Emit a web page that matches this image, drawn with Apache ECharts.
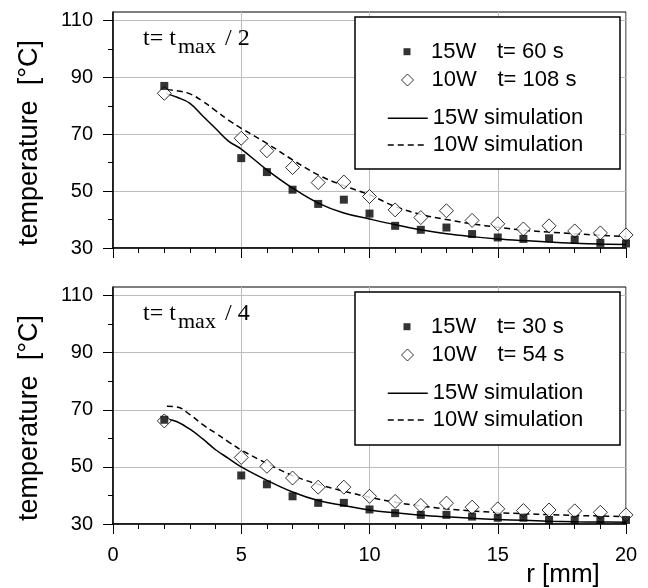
<!DOCTYPE html>
<html>
<head>
<meta charset="utf-8">
<script src="https://cdn.jsdelivr.net/npm/echarts@6/dist/echarts.min.js"></script>
<style>html,body{margin:0;padding:0;background:#fff}#c{width:648px;height:588px}</style>
</head>
<body>
<div id="c"></div>
<script>
// ---- data ----
const rPoints = [2, 5, 6, 7, 8, 9, 10, 11, 12, 13, 14, 15, 16, 17, 18, 19, 20];
const top15W = [87.0, 61.6, 56.7, 50.5, 45.5, 47.0, 42.1, 37.8, 36.4, 37.2, 34.9, 33.7, 33.2, 33.4, 32.9, 31.8, 31.6];
const top10W = [84.4, 68.6, 64.2, 58.3, 53.0, 53.2, 48.1, 43.4, 40.7, 43.1, 39.7, 38.5, 36.7, 37.8, 36.0, 35.3, 34.6];
const bot15W = [66.5, 47.0, 43.9, 39.7, 37.4, 37.4, 35.1, 33.8, 33.2, 33.2, 32.6, 32.2, 32.2, 31.4, 31.4, 31.4, 31.4];
const bot10W = [66.1, 53.3, 50.2, 46.1, 42.9, 42.9, 39.7, 37.9, 36.5, 37.3, 35.9, 35.3, 34.7, 34.9, 34.6, 34.1, 33.2];

const rSim = [2.1, 2.5, 3, 3.5, 4, 4.5, 5, 6, 7, 8, 9, 10, 11, 12, 13, 14, 15, 16, 17, 18, 19, 20];
const topSim15W = [84.3, 83.0, 80.9, 76.4, 72.0, 67.6, 64.8, 57.5, 51.1, 45.8, 42.3, 40.2, 38.2, 36.4, 35.0, 34.0, 33.2, 32.6, 32.1, 31.7, 31.4, 31.2];
const topSim10W = [85.7, 85.3, 84.2, 81.6, 78.3, 75.0, 72.1, 66.8, 61.0, 55.7, 51.9, 48.7, 44.6, 41.8, 40.0, 38.5, 37.3, 36.3, 35.6, 35.0, 34.5, 34.0];
const botSim15W = [66.8, 65.8, 63.2, 59.8, 56.0, 53.0, 50.0, 45.3, 41.2, 38.2, 36.5, 34.9, 33.9, 33.1, 32.5, 32.0, 31.6, 31.3, 31.0, 30.8, 30.7, 30.6];
const botSim10W = [71.2, 71.0, 68.3, 64.8, 61.8, 58.8, 55.9, 51.2, 47.0, 43.9, 41.5, 39.4, 37.6, 36.3, 35.3, 34.6, 34.0, 33.6, 33.3, 33.0, 32.8, 32.6];

const yTicks = [30, 50, 70, 90, 110];
const xTicks = [0, 5, 10, 15, 20];
const powerLabels = ['15W', '10W'];
const timesTop = ['t= 60 s', 't= 108 s'];
const timesBot = ['t= 30 s', 't= 54 s'];
const simLabels = ['15W simulation', '10W simulation'];
const insetTop = ['t= t', 'max', '/ 2'];
const insetBot = ['t= t', 'max', '/ 4'];
const yTitle = 'temperature  [°C]';
const xTitle = 'r [mm]';

// ---- helpers ----
const SANS = 'Liberation Sans, Arial, Helvetica, sans-serif';
const SERIF = 'Liberation Serif, Times New Roman, serif';
const LEG_FS = 22;
const pairs = (xs, ys) => xs.map((x, i) => [x, ys[i]]);

const grids = [
  { left: 113, top: 12, right: 22, height: 236, show: true, borderColor: '#000', borderWidth: 1 },
  { left: 113, top: 287, right: 22, height: 237, show: true, borderColor: '#000', borderWidth: 1 }
];

function xAxisCfg(gi, showLabels) {
  return {
    type: 'value', gridIndex: gi, min: 0, max: 20, interval: 5,
    axisLine: { show: true, onZero: false, lineStyle: { color: '#000', width: 1.5 } },
    axisTick: { show: true, length: 10, lineStyle: { color: '#000', width: 1 } },
    minorTick: { show: true, splitNumber: 5, length: 5, lineStyle: { color: '#000', width: 1 } },
    splitLine: { show: true, lineStyle: { color: '#bdbdbd', width: 1 } },
    axisLabel: { show: showLabels, fontSize: 20, color: '#000', fontFamily: SANS, margin: 21,
                 customValues: xTicks }
  };
}
function yAxisCfg(gi) {
  return {
    type: 'value', gridIndex: gi, min: 30, max: 113, interval: 20,
    axisLine: { show: true, onZero: false, lineStyle: { color: '#000', width: 1.5 } },
    axisTick: { show: true, length: 10, lineStyle: { color: '#000', width: 1 }, customValues: yTicks },
    minorTick: { show: true, splitNumber: 2, length: 5, lineStyle: { color: '#000', width: 1 } },
    splitLine: { show: true, lineStyle: { color: '#bdbdbd', width: 1 } },
    axisLabel: { fontSize: 20, color: '#000', fontFamily: SANS, margin: 20, customValues: yTicks }
  };
}

function lineSeries(name, gi, ys, dashed) {
  return {
    name: name, type: 'line', xAxisIndex: gi, yAxisIndex: gi,
    data: pairs(rSim, ys), smooth: 0.4, symbol: 'none', showSymbol: false,
    lineStyle: { color: '#000', width: 1.5, type: dashed ? [6, 4] : 'solid' },
    itemStyle: { color: '#000' }, z: 2, silent: true
  };
}
function squareSeries(name, gi, ys) {
  return {
    name: name, type: 'scatter', xAxisIndex: gi, yAxisIndex: gi,
    data: pairs(rPoints, ys), symbol: 'rect', symbolSize: 8,
    itemStyle: { color: '#000', borderColor: '#000', borderWidth: 0 }, z: 4
  };
}
function diamondSeries(name, gi, ys) {
  return {
    name: name, type: 'scatter', xAxisIndex: gi, yAxisIndex: gi,
    data: pairs(rPoints, ys), symbol: 'diamond', symbolSize: 14,
    itemStyle: { color: '#fff', borderColor: '#000', borderWidth: 1 }, z: 3
  };
}

const nameTop15 = powerLabels[0] + '|' + timesTop[0];
const nameTop10 = powerLabels[1] + '|' + timesTop[1];
const nameBot15 = powerLabels[0] + '|' + timesBot[0];
const nameBot10 = powerLabels[1] + '|' + timesBot[1];

const ICON_CX = 407;   // centre of legend icons
const TEXT_X = 431;    // legend text start

function symbolRow(name, icon, size, centerY, style) {
  const left = ICON_CX - size / 2;
  return {
    data: [{ name: name, icon: icon }], left: left, top: centerY - 11, padding: 0,
    itemWidth: size, itemHeight: size, selectedMode: false,
    itemStyle: style, formatter: function (n) {
      const p = n.split('|');
      return '{a|' + p[0] + '}{c|' + p[1] + '}';
    },
    textStyle: {
      fontSize: LEG_FS, color: '#000', fontFamily: SANS, lineHeight: 22,
      rich: { a: { width: 66, fontSize: LEG_FS, fontFamily: SANS, color: '#000',
                   padding: [0, 0, 0, TEXT_X - (left + size + 5)] },
              c: { fontSize: LEG_FS, fontFamily: SANS, color: '#000' } }
    }
  };
}
function lineRow(name, dashed, centerY) {
  return {
    data: [name], left: ICON_CX - 20, top: centerY - 11, padding: 0,
    itemWidth: 40, itemHeight: 14, selectedMode: false,
    itemStyle: { color: 'rgba(0,0,0,0)', borderWidth: 0, opacity: 0 },
    lineStyle: { color: '#000', width: 1.5, type: dashed ? [6, 4] : 'solid', opacity: 1 },
    textStyle: { fontSize: LEG_FS, color: '#000', fontFamily: SANS, lineHeight: 22 }
  };
}
function legendBlock(boxTop, n15, n10) {
  return [
    symbolRow(n15, 'rect', 7, boxTop + 34.7, { color: '#000', borderWidth: 0 }),
    symbolRow(n10, 'diamond', 12, boxTop + 63, { color: '#fff', borderColor: '#000', borderWidth: 1 }),
    lineRow(simLabels[0], false, boxTop + 101.3),
    lineRow(simLabels[1], true, boxTop + 128)
  ];
}

function inset(y0, parts) {
  return [
    { type: 'text', left: 143, top: y0, z: 5, style: { text: parts[0], font: '24px ' + SERIF, fill: '#000' } },
    { type: 'text', left: 178, top: y0 + 9.5, z: 5, style: { text: parts[1], font: '22px ' + SERIF, fill: '#000' } },
    { type: 'text', left: 225, top: y0, z: 5, style: { text: parts[2], font: '24px ' + SERIF, fill: '#000' } }
  ];
}

const option = {
  animation: false,
  backgroundColor: '#fff',
  grid: grids,
  xAxis: [xAxisCfg(0, false), xAxisCfg(1, true)],
  yAxis: [yAxisCfg(0), yAxisCfg(1)],
  legend: [].concat(legendBlock(17, nameTop15, nameTop10), legendBlock(292, nameBot15, nameBot10)),
  series: [
    lineSeries(simLabels[0], 0, topSim15W, false),
    lineSeries(simLabels[1], 0, topSim10W, true),
    diamondSeries(nameTop10, 0, top10W),
    squareSeries(nameTop15, 0, top15W),
    lineSeries(simLabels[0], 1, botSim15W, false),
    lineSeries(simLabels[1], 1, botSim10W, true),
    diamondSeries(nameBot10, 1, bot10W),
    squareSeries(nameBot15, 1, bot15W)
  ],
  graphic: [
    { type: 'rect', z: 3, shape: { x: 355, y: 17, width: 265, height: 152 },
      style: { fill: '#fff', stroke: '#000', lineWidth: 1.5 } },
    { type: 'rect', z: 3, shape: { x: 355, y: 292, width: 265, height: 153 },
      style: { fill: '#fff', stroke: '#000', lineWidth: 1.5 } },
    { type: 'text', x: 30, y: 143, rotation: Math.PI / 2, z: 5,
      style: { text: yTitle, font: '27px ' + SANS, fill: '#000', align: 'center', verticalAlign: 'middle' } },
    { type: 'text', x: 30, y: 418, rotation: Math.PI / 2, z: 5,
      style: { text: yTitle, font: '27px ' + SANS, fill: '#000', align: 'center', verticalAlign: 'middle' } },
    { type: 'text', x: 563, y: 575, z: 5,
      style: { text: xTitle, font: '26px ' + SANS, fill: '#000', align: 'center', verticalAlign: 'middle' } }
  ].concat(inset(26.5, insetTop), inset(302, insetBot))
};

const chart = echarts.init(document.getElementById('c'), null, { renderer: 'canvas' });
chart.setOption(option);
</script>
</body>
</html>
